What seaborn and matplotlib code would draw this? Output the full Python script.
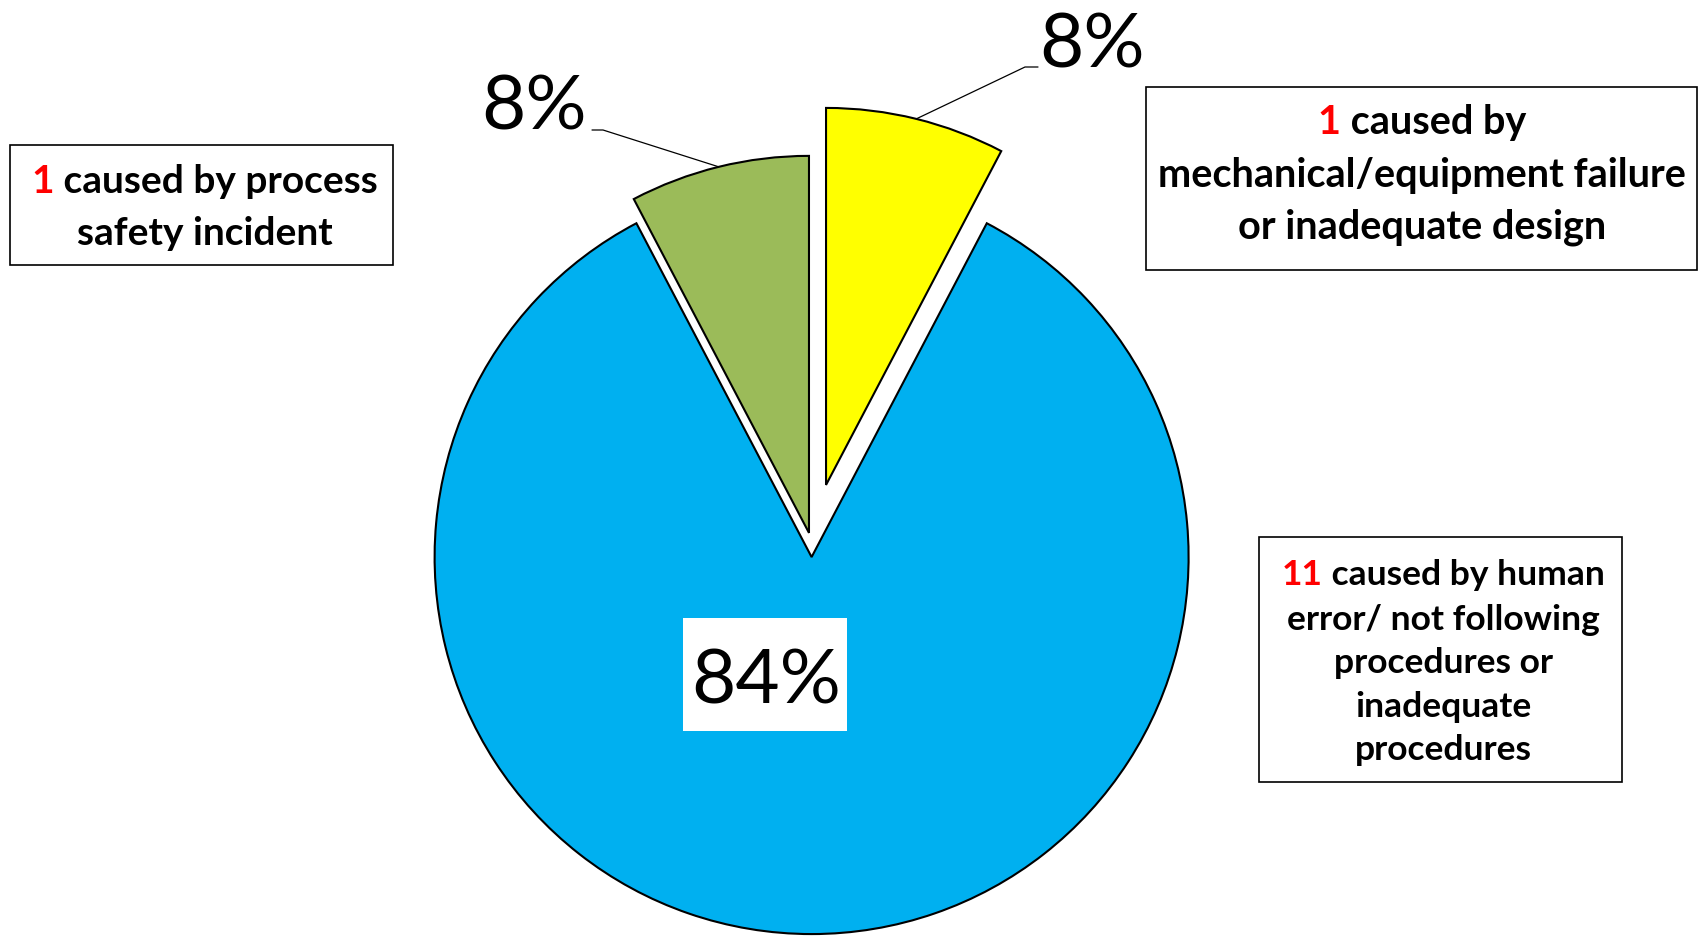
import matplotlib.pyplot as plt
import matplotlib.patches as mpatches
import seaborn as sns
import numpy as np

sns.set_theme(style="white")
plt.rcParams['font.family'] = ['Lato', 'DejaVu Sans']

# data (clockwise from 12 o'clock)
counts = [1, 11, 1]
percent_labels = ["8%", "84%", "8%"]
colors = ["#FFFF00", "#00B0F0", "#9BBB59"]
explode = [0.16, 0.036, 0.029]

box_numbers = ["1", "11", "1"]
box_lines = [
    [" caused by", "mechanical/equipment failure", "or inadequate design"],
    [" caused by human", "error/ not following", "procedures or", "inadequate", "procedures"],
    [" caused by process", "safety incident"],
]

# layout, in pixels from the top-left corner
W, H = 1704, 936
pie_center = (811.6, 543.5)
pie_radius = 377
boxes = [
    dict(rect=(1146, 87, 1697, 270), cx=1422, baselines=[134, 187, 238], fs=28.5),
    dict(rect=(1259, 537, 1622, 782), cx=1443, baselines=[585, 630, 673, 717, 760], fs=25.5),
    dict(rect=(10, 145, 393, 265), cx=205, baselines=[193, 245], fs=28),
]
pct_pos = [(1092, 67), (766, 703), (534, 130)]
pct_patch = (683, 618, 847, 731)
leaders = [[(1038, 67), (1025, 67)], None, [(592, 130), (603, 130)]]

PCT_FS = 55

fig = plt.figure(figsize=(W / 100, H / 100), dpi=100)
ax = fig.add_axes([0, 0, 1, 1])

wedges, _ = ax.pie(counts, colors=colors, explode=[e * pie_radius for e in explode],
                   startangle=90, counterclock=False,
                   center=(pie_center[0], H - pie_center[1]), radius=pie_radius,
                   wedgeprops=dict(edgecolor="black", linewidth=1.5))
ax.set_xlim(0, W)
ax.set_ylim(0, H)
ax.set_aspect("equal")
ax.axis("off")

for i, w in enumerate(wedges):
    x, y = pct_pos[i]
    if leaders[i] is None:
        px0, py0, px1, py1 = pct_patch
        ax.add_patch(mpatches.Rectangle((px0, H - py1), px1 - px0, py1 - py0,
                                        facecolor="white", edgecolor="none", zorder=3))
    ax.text(x, H - y, percent_labels[i], fontsize=PCT_FS, color="black", ha="center",
            va="baseline", zorder=4)
    if leaders[i] is None:
        continue
    theta = np.deg2rad((w.theta1 + w.theta2) / 2)
    mx = w.center[0] + w.r * np.cos(theta)
    my = w.center[1] + w.r * np.sin(theta)
    (x0, y0), (x1, y1) = leaders[i]
    ax.plot([x0, x1, mx], [H - y0, H - y1, my], color="black", lw=0.9)

renderer = fig.canvas.get_renderer()
for num, lines, box in zip(box_numbers, box_lines, boxes):
    bx0, by0, bx1, by1 = box["rect"]
    ax.add_patch(mpatches.Rectangle((bx0, H - by1), bx1 - bx0, by1 - by0, fill=False,
                                    edgecolor="black", lw=1.2))
    cx, fs = box["cx"], box["fs"]
    # first line: red number + black rest, centred together
    full = ax.text(cx, H - box["baselines"][0], num + lines[0], fontsize=fs, fontweight="bold",
                   ha="center", va="baseline", alpha=0)
    bb = full.get_window_extent(renderer)
    ax.text(bb.x0, H - box["baselines"][0], num, fontsize=fs, fontweight="bold",
            color="#FF0000", ha="left", va="baseline")
    ax.text(bb.x1, H - box["baselines"][0], lines[0], fontsize=fs, fontweight="bold",
            color="black", ha="right", va="baseline")
    for line, yb in zip(lines[1:], box["baselines"][1:]):
        ax.text(cx, H - yb, line, fontsize=fs, fontweight="bold", color="black",
                ha="center", va="baseline")

fig.savefig("out.png", dpi=100)
